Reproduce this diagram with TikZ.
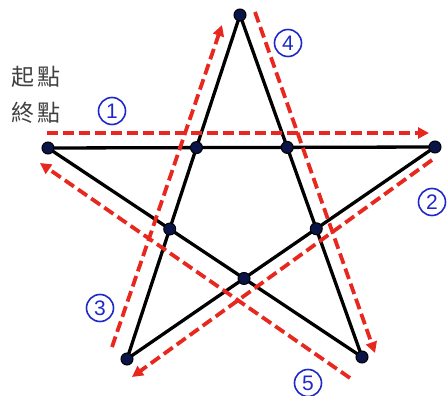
\documentclass[tikz,border=0pt]{standalone}
\usepackage{fontspec}
\newfontfamily\cjk{Noto Sans CJK TC}
\setsansfont{Liberation Sans}
\usetikzlibrary{arrows.meta}
\definecolor{dotnavy}{HTML}{0B1446}
\definecolor{pathred}{HTML}{E8281E}
\definecolor{numblue}{HTML}{1E28C8}

\begin{document}
\begin{tikzpicture}[x=1pt,y=-1pt,
     vtx/.style={circle,draw=black,fill=dotnavy,line width=1pt,
       inner sep=0pt,minimum size=12pt},
     edge/.style={line width=3.3pt,black},
     trail/.style={draw=pathred,line width=3.8pt,dash pattern=on 11pt off 5pt,
       -{Triangle[length=11pt,width=11pt]}},
     num/.style={circle,draw=numblue,line width=1.6pt,text=numblue,
       font=\sffamily\fontsize{21}{21}\selectfont,minimum size=27pt,inner sep=0pt},
     lab/.style={font=\cjk\fontsize{23}{23}\selectfont,text=black!75}]
    \useasboundingbox (0,0) rectangle (448,396);
    % outer points of the star
    \coordinate (T) at (240,15);
    \coordinate (L) at (48,148);
    \coordinate (R) at (435,147);
    \coordinate (BL) at (127,359);
    \coordinate (BR) at (362,357);
    \draw[edge,line join=round] (T) -- (BL) -- (R) -- (L) -- (BR) -- cycle;
    % inner crossings
    \coordinate (A) at (intersection of T--BL and L--R);
    \coordinate (B) at (intersection of T--BR and L--R);
    \coordinate (C) at (intersection of T--BL and L--BR);
    \coordinate (D) at (intersection of T--BR and R--BL);
    \coordinate (E) at (intersection of L--BR and R--BL);
    \foreach \p in {T,L,R,BL,BR,A,B,C,D,E}
      \node[vtx] (d\p) at (\p) {};
    % walking order
    \coordinate (s1) at (47,133);  \coordinate (e1) at (429,133);
    \coordinate (s2) at (432,160); \coordinate (e2) at (132,377);
    \coordinate (s3) at (112,347); \coordinate (e3) at (222,25);
    \coordinate (s4) at (255,12);  \coordinate (e4) at (375,353);
    \coordinate (s5) at (350,378); \coordinate (e5) at (40,163);
    \draw[trail] (s1) -- (e1);
    \draw[trail] (s2) -- (e2);
    \draw[trail] (s3) -- (e3);
    \draw[trail] (s4) -- (e4);
    \draw[trail] (s5) -- (e5);
    \node[num] (n1) at (112,111) {1};
    \node[num] (n2) at (432,202) {2};
    \node[num] (n3) at (100,308) {3};
    \node[num] (n4) at (288,43) {4};
    \node[num] (n5) at (308,383) {5};
    \node[lab] (start) at (36,77) {起\kern3pt 點};
    \node[lab] (finish) at (36,113) {終\kern3pt 點};
  \end{tikzpicture}
\end{document}
